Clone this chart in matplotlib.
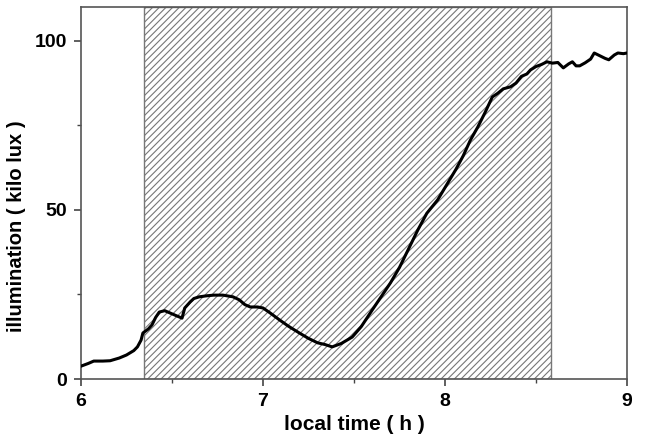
import numpy as np
import matplotlib
matplotlib.use('Agg')
import matplotlib.pyplot as plt
from matplotlib.ticker import MultipleLocator

t = [6.00, 6.04, 6.07, 6.12, 6.16, 6.21, 6.25, 6.29, 6.31, 6.33, 6.34, 6.37, 6.39, 6.41,
     6.43, 6.46, 6.49, 6.52, 6.555, 6.57, 6.60, 6.62, 6.65, 6.69, 6.73, 6.78, 6.835,
     6.87, 6.90, 6.93, 6.97, 7.00, 7.04, 7.09, 7.14, 7.20, 7.25, 7.30, 7.34, 7.38,
     7.43, 7.49, 7.54, 7.60, 7.65, 7.70, 7.75, 7.80, 7.85, 7.90, 7.96, 8.01, 8.06,
     8.10, 8.14, 8.18, 8.22, 8.26, 8.29, 8.32, 8.36, 8.39, 8.42, 8.45, 8.47, 8.50,
     8.53, 8.56, 8.59, 8.62, 8.65, 8.68, 8.70, 8.72, 8.74, 8.77, 8.80, 8.82, 8.85,
     8.88, 8.90, 8.93, 8.95, 8.98, 9.00]
lux = [3.8, 4.6, 5.3, 5.3, 5.4, 6.2, 7.1, 8.4, 9.5, 11.5, 13.6, 14.8, 16.0, 18.2,
       19.8, 20.2, 19.5, 18.8, 18.0, 21.0, 22.8, 23.8, 24.3, 24.6, 24.8, 24.8, 24.3,
       23.4, 22.0, 21.3, 21.3, 21.0, 19.5, 17.5, 15.6, 13.6, 12.0, 10.7, 10.2, 9.5,
       10.5, 12.4, 15.5, 20.4, 24.4, 28.4, 33.0, 38.5, 44.0, 49.0, 53.0, 57.5, 62.0,
       66.0, 70.7, 74.5, 78.8, 83.4, 84.5, 85.8, 86.4, 87.5, 89.5, 90.2, 91.4, 92.4,
       93.0, 93.8, 93.4, 93.6, 92.0, 93.2, 93.8, 92.6, 92.6, 93.5, 94.6, 96.4, 95.6,
       94.8, 94.4, 95.8, 96.4, 96.2, 96.4]

shade_start, shade_end = 6.346, 8.582

plt.rcParams['font.family'] = ['Liberation Sans', 'DejaVu Sans']
plt.rcParams['font.weight'] = 'bold'
plt.rcParams['hatch.color'] = '#999999'
plt.rcParams['hatch.linewidth'] = 0.8

fig = plt.figure(figsize=(6.45, 4.38), dpi=100)
ax = fig.add_axes([0.1256, 0.1347, 0.8465, 0.8493])

ax.axvspan(shade_start, shade_end, facecolor='none', edgecolor='#777777',
           hatch='/////', linewidth=1.0, zorder=1)
ax.plot(t, lux, color='black', linewidth=2.2, zorder=3)

ax.set_xlim(6, 9)
ax.set_ylim(0, 110)
ax.xaxis.set_major_locator(MultipleLocator(1))
ax.xaxis.set_minor_locator(MultipleLocator(0.5))
ax.yaxis.set_major_locator(MultipleLocator(50))
ax.yaxis.set_minor_locator(MultipleLocator(25))
ax.tick_params(which='major', direction='out', length=5, width=1.2, labelsize=14,
               color='#444444', pad=5)
ax.tick_params(which='minor', direction='out', length=3, width=1.0, color='#444444')
for s in ax.spines.values():
    s.set_color('#555555')
    s.set_linewidth(1.2)

ax.set_xlabel('local time ( h )', fontsize=15, fontweight='bold', labelpad=4)
ax.set_ylabel('illumination ( kilo lux )', fontsize=14.5, fontweight='bold')
ax.yaxis.set_label_coords(-0.10, 0.41)

fig.savefig('out.png', dpi=100)
